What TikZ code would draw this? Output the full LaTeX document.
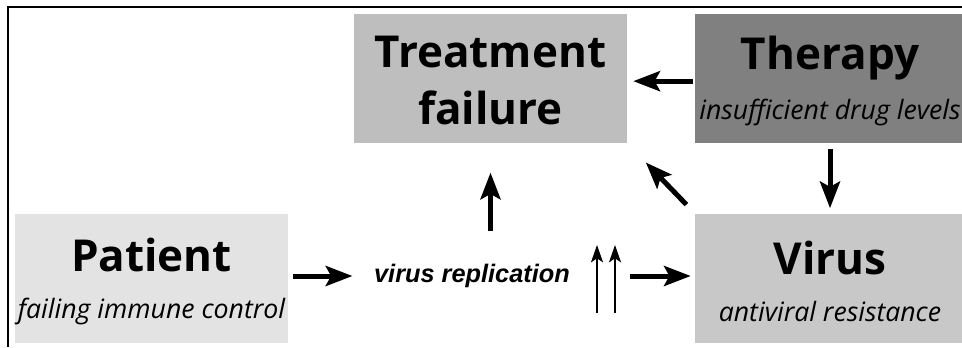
\documentclass[tikz,border=0pt]{standalone}
\usepackage{fontspec}
\setmainfont{Open Sans}
\newfontfamily\arialfont{Liberation Sans}
\usetikzlibrary{arrows.meta}
\definecolor{failgray}{RGB}{190,190,190}
\definecolor{therapygray}{RGB}{128,128,128}
\definecolor{patientgray}{RGB}{227,227,227}
\definecolor{virusgray}{RGB}{200,200,200}
\newcommand{\boxtitle}{\fontsize{33}{40}\selectfont\bfseries\upshape}

\begin{document}
\begin{tikzpicture}[x=0.75pt, y=-0.75pt,
    box/.style={inner sep=0pt, minimum width=204.75pt, minimum height=96.75pt,
                align=center, font=\fontsize{20}{24}\selectfont\itshape},
    fat/.style={line width=3.75pt, -{Stealth[length=20pt, width=15pt, inset=4pt]}},
    slim/.style={line width=1.5pt, -{Stealth[length=13pt, width=9pt, inset=3pt]}}
]
    \useasboundingbox (0,0) rectangle (962,347);
    % frame
    \draw[line width=1.5pt] (8,347) -- (8,7) -- (975,7);

    % boxes
    \node[box, fill=failgray] (fail) at (490.5,78.5)
        {\boxtitle\rule{0pt}{27pt}Treatment\\[16pt] \boxtitle failure};
    \node[box, fill=therapygray, minimum width=202.5pt] (therapy) at (830,78.5)
        {{\boxtitle\rule{0pt}{29pt}Therapy}\\[13pt] insufficient drug levels};
    \node[box, fill=patientgray] (patient) at (151.5,278)
        {{\boxtitle\rule{0pt}{30pt}Patient}\\[11pt] failing immune control};
    \node[box, fill=virusgray, minimum width=202.5pt] (virus) at (830,278)
        {{\boxtitle\rule{0pt}{30pt}Virus}\\[11pt] antiviral resistance};
    \node[font=\arialfont\fontsize{19}{22}\selectfont\bfseries\itshape] (repl) at (472,276) {virus replication};

    % connectors
    \coordinate (up1) at (597,313);
    \coordinate (up2) at (615,313);
    \draw[fat, shorten <=3.75pt, shorten >=12.75pt] (patient.east |- repl.west) -- (repl.west);
    \draw[fat, shorten <=21pt, shorten >=22pt] (fail.south |- repl.north) -- (fail.south);
    \draw[slim] (up1) -- ++(0,-68);
    \draw[slim] (up2) -- ++(0,-68);
    \draw[fat, shorten <=41.5pt, shorten >=3pt] (repl.east) -- (virus.west |- repl.east);
    \draw[fat, shorten <=9pt, shorten >=20pt] (virus.north west) -- (fail.south east);
    \draw[fat, shorten <=1.5pt, shorten >=4.5pt] ([yshift=-2pt]therapy.west) -- ([yshift=-2pt]fail.east);
    \draw[fat, shorten <=4.5pt, shorten >=3.75pt] (therapy.south) -- (virus.north);
\end{tikzpicture}
\end{document}
